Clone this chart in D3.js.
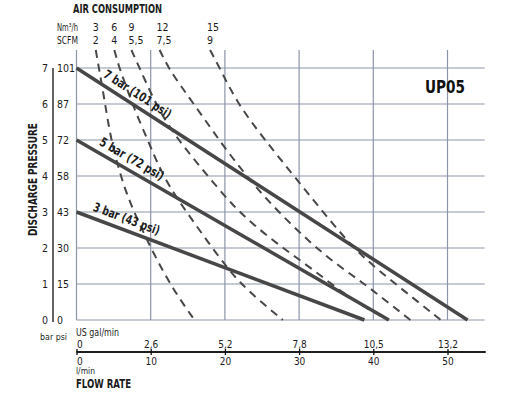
<!DOCTYPE html>
<html>
<head>
<meta charset="utf-8">
<script src="https://cdn.jsdelivr.net/npm/d3@7"></script>
<style>
  body { margin: 0; background: #fff; }
  svg { display: block; }
</style>
</head>
<body>
<div id="chart"></div>
<script>
// axis values
const flowLmin = [0, 10, 20, 30, 40, 50];
const flowGal = ["0", "2,6", "5,2", "7,8", "10,5", "13,2"];
const barTicks = [0, 1, 2, 3, 4, 5, 6, 7];
const psiTicks = [0, 15, 30, 43, 58, 72, 87, 101];

// discharge pressure lines (bar, flow at zero pressure in l/min)
const pressureBar = [7, 5, 3];
const pressureMaxFlow = [52.7, 42.1, 38.8];
const pressureLabel = ["7 bar (101 psi)", "5 bar (72 psi)", "3 bar (43 psi)"];
const pressureLabelAt = [3.0, 2.5, 1.8];

// air consumption curves [l/min, bar]
const airNm3h = ["3", "6", "9", "12", "15"];
const airScfm = ["2", "4", "5,5", "7,5", "9"];
const air3 = [[2.6,7.5],[3.1,6.9],[3.7,6.2],[4.2,5.55],[4.9,4.8],[6.1,3.9],[7.4,3.15],[10.1,1.95],[13.0,0.85],[15.9,0]];
const air6 = [[5.1,7.5],[5.7,7.05],[6.5,6.6],[7.8,5.85],[9.6,5.0],[10.8,4.4],[12.5,3.7],[15.0,2.95],[17.6,2.2],[20.3,1.45],[22.0,1.05],[24.3,0.6],[27.8,0]];
const air9 = [[7.4,7.5],[8.6,6.95],[10.9,5.9],[13.2,5.15],[15.7,4.5],[18.5,3.8],[21.0,3.2],[23.8,2.65],[27.8,2.0],[31.9,1.4],[35.9,0.75],[39.3,0.3],[42.0,0]];
const air12 = [[11.2,7.5],[12.4,7.0],[13.9,6.55],[15.8,6.0],[18.2,5.3],[21.0,4.5],[24.1,3.7],[27.7,2.9],[31.5,2.15],[35.0,1.55],[38.5,1.05],[41.6,0.55],[45.0,0]];
const air15 = [[18.0,7.5],[19.3,7.0],[21.6,6.05],[25.0,5.1],[29.5,3.95],[34.6,2.65],[38.2,1.8],[43.6,0.9],[49.1,0]];
const airCurves = [air3, air6, air9, air12, air15];

const FONT = "'DejaVu Sans Condensed','Liberation Sans Narrow','Arial Narrow','DejaVu Sans',sans-serif";
const TXT = "#1c1c1c";
const GRID = "#8c95a7";
const INK = "#474747";

const width = 527, height = 395;
const svg = d3.select("#chart").append("svg")
    .attr("width", width)
    .attr("height", height)
    .style("font-family", FONT)
    .style("font-stretch", "condensed");

const x = d3.scaleLinear().domain([0, 55]).range([76.5, 484.6]);
const y = d3.scaleLinear().domain([0, 7.5]).range([320, 50]);

// helper for condensed text squeezed to the reference width
const label = (tx, ty, str, size, bold, len) => {
    const t = svg.append("text").attr("x", tx).attr("y", ty)
        .attr("font-size", size)
        .attr("font-weight", bold ? 700 : 400)
        .attr("fill", TXT)
        .text(str);
    if (len) t.attr("textLength", len).attr("lengthAdjust", "spacingAndGlyphs");
    return t;
};

// grid
svg.append("g").selectAll("line").data(flowLmin).join("line")
    .attr("x1", d => x(d)).attr("x2", d => x(d))
    .attr("y1", y(7.5)).attr("y2", y(0))
    .attr("stroke", GRID).attr("stroke-width", 1.2);
svg.append("g").selectAll("line").data(barTicks).join("line")
    .attr("x1", x(0)).attr("x2", x(55))
    .attr("y1", d => y(d)).attr("y2", d => y(d))
    .attr("stroke", GRID).attr("stroke-width", 1.2);

// air consumption dashed curves
const curve = d3.line()
    .x(d => x(d[0]))
    .y(d => y(d[1]))
    .curve(d3.curveBasis);
svg.append("g").selectAll("path").data(airCurves).join("path")
    .attr("d", curve)
    .attr("fill", "none")
    .attr("stroke", INK)
    .attr("stroke-width", 2)
    .attr("stroke-dasharray", "8,6");

// pressure lines
const labelLen = [78, 72, 70];
pressureBar.forEach((b, i) => {
    svg.append("line")
        .attr("x1", x(0)).attr("y1", y(b))
        .attr("x2", x(pressureMaxFlow[i])).attr("y2", y(0))
        .attr("stroke", INK)
        .attr("stroke-width", 3.5);
    const ang = Math.atan2(y(0) - y(b), x(pressureMaxFlow[i]) - x(0)) * 180 / Math.PI;
    const f = pressureLabelAt[i];
    const px = x(f), py = y(b * (1 - f / pressureMaxFlow[i]));
    svg.append("text")
        .attr("transform", `translate(${px},${py}) rotate(${ang})`)
        .attr("dy", -7)
        .attr("font-size", 12.5)
        .attr("font-weight", 700)
        .attr("fill", TXT)
        .attr("textLength", labelLen[i])
        .attr("lengthAdjust", "spacingAndGlyphs")
        .text(pressureLabel[i]);
});

// air consumption labels
label(73, 13, "AIR CONSUMPTION", 13, true, 89);
label(57, 31, "Nm³/h", 10, false, 21);
label(57, 44, "SCFM", 10, false, 21);
airCurves.forEach((c, i) => {
    label(x(c[0][0]) - 3, 31, airNm3h[i], 10.5, false);
    label(x(c[0][0]) - 3, 44, airScfm[i], 10.5, false);
});

// model name
label(425, 93, "UP05", 17, true, 40).attr("fill", "#111");

// left axis: bar | psi
svg.append("line")
    .attr("x1", 53).attr("x2", 53)
    .attr("y1", y(7)).attr("y2", y(0) + 2)
    .attr("stroke", "#111").attr("stroke-width", 1.3);
svg.append("g").selectAll("text").data(barTicks).join("text")
    .attr("x", 48).attr("y", d => y(d)).attr("dy", "0.35em")
    .attr("text-anchor", "end").attr("font-size", 10.5).attr("fill", TXT)
    .text(d => d);
svg.append("g").selectAll("text").data(psiTicks).join("text")
    .attr("x", 57).attr("y", (d, i) => y(barTicks[i])).attr("dy", "0.35em")
    .attr("font-size", 10.5).attr("fill", TXT)
    .text(d => d);
label(40, 340, "bar psi", 9.5, false, 27);
svg.append("text")
    .attr("transform", `translate(37,${y(3.9)}) rotate(-90)`)
    .attr("text-anchor", "middle")
    .attr("font-size", 12.5).attr("font-weight", 700).attr("fill", TXT)
    .attr("textLength", 113).attr("lengthAdjust", "spacingAndGlyphs")
    .text("DISCHARGE PRESSURE");

// bottom axis: US gal/min above, l/min below
const axisY = 352;
const galAxis = d3.axisTop(x).tickValues(flowLmin)
    .tickSizeInner(3).tickSizeOuter(0).tickPadding(1)
    .tickFormat((d, i) => flowGal[i]);
const lAxis = d3.axisBottom(x).tickValues(flowLmin)
    .tickSizeInner(3).tickSizeOuter(0).tickPadding(3)
    .tickFormat(d => d);
[galAxis, lAxis].forEach(a => {
    const g = svg.append("g")
        .attr("transform", `translate(0,${axisY})`)
        .call(a);
    g.select(".domain").attr("stroke", "#111").attr("stroke-width", 1.5)
        .attr("d", `M${x(0)},0H${x(55) + 1}`);
    g.selectAll(".tick line").attr("stroke", "#111").attr("stroke-width", 1.3);
    g.selectAll(".tick text")
        .attr("font-family", FONT).attr("font-size", 10).attr("fill", TXT)
        .attr("text-anchor", d => d === 0 ? "start" : "middle");
});
label(76, 336, "US gal/min", 10, false, 43);
label(76, 374, "l/min", 9, false, 19);
label(76, 388, "FLOW RATE", 12, true, 55);
</script>
</body>
</html>
